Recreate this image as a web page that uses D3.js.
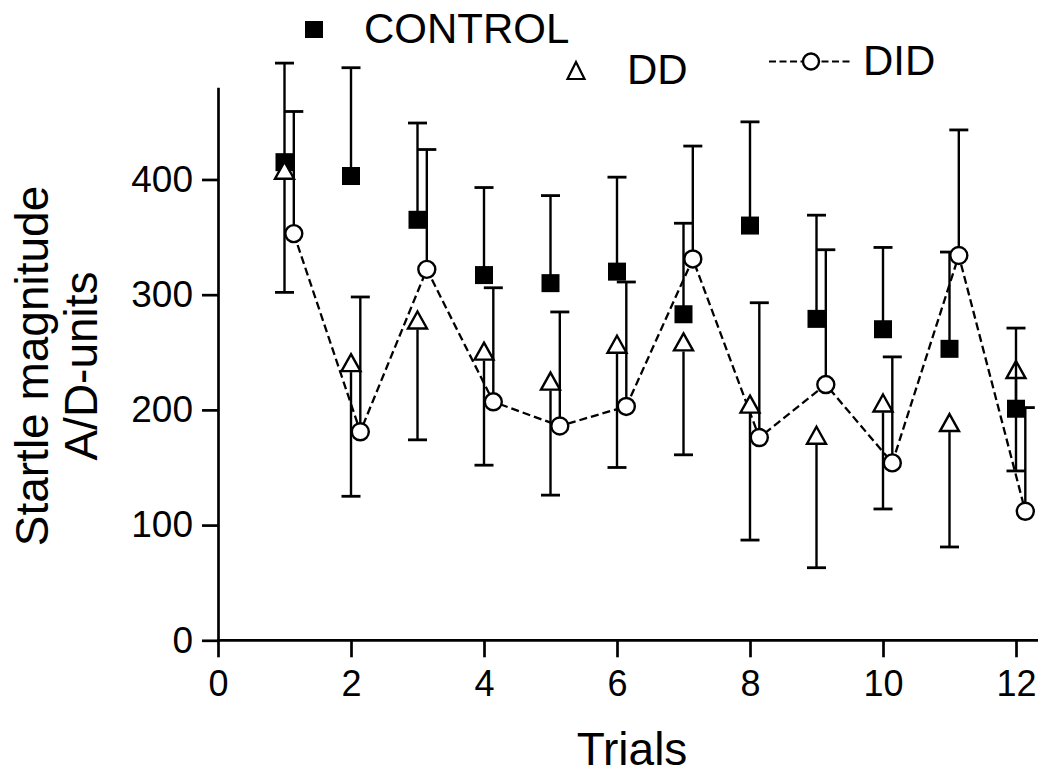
<!DOCTYPE html>
<html>
<head>
<meta charset="utf-8">
<script src="https://cdn.jsdelivr.net/npm/d3@7"></script>
<style>
  html, body { margin: 0; padding: 0; background: #fff; }
  svg { display: block; font-family: "Liberation Sans", Arial, sans-serif; }
</style>
</head>
<body>
<svg id="chart" width="1040" height="774"></svg>
<script>
// ---- data ----
const trials = [1, 2, 3, 4, 5, 6, 7, 8, 9, 10, 11, 12];
const controlMean = [415, 403, 365, 317, 310, 320, 283, 360, 279, 270, 253, 201];
const controlSem  = [86, 94, 84, 76, 76, 82, 79, 90, 90, 71, 84, 70];
const ddMean = [408, 241, 278, 251, 225, 257, 259, 205, 178, 206, 189, 235];
const ddSem  = [106, 116, 104, 99, 99, 107, 98, 118, 115, 92, 108, 88];
const didMean = [353, 181, 322, 207, 186, 203, 331, 176, 222, 154, 334, 112];
const didSem  = [106, 117, 104, 99, 99, 108, 98, 117, 117, 92, 109, 90];
const xTicks = [0, 2, 4, 6, 8, 10, 12];
const yTicks = [0, 100, 200, 300, 400];
const seriesNames = ["CONTROL", "DD", "DID"];
const xLabel = "Trials";
const yLabelLines = ["Startle magnitude", "A/D-units"];

// ---- layout ----
const svg = d3.select("#chart");
const x = d3.scaleLinear().domain([0, 12]).range([218, 1016]);
const y = d3.scaleLinear().domain([0, 480]).range([640.3, 87.3]);
const didOffset = 0.14;
const black = "#000";

const sq = 18, triW = 19, triH = 17, circR = 8.5;
const capHalf = 9.5;

// axes
const yAxis = d3.axisLeft(y).tickValues(yTicks).tickSize(16).tickPadding(9).tickSizeOuter(0);
const gy = svg.append("g").attr("transform", `translate(${x(0)},0)`).call(yAxis);
gy.select(".domain").attr("stroke-width", 2.7);
gy.selectAll(".tick line").attr("stroke-width", 2.7);
gy.selectAll(".tick text").attr("font-size", 37).attr("fill", black)
  .attr("font-family", "Liberation Sans, Arial, sans-serif");

const xAxis = d3.axisBottom(x).tickValues(xTicks).tickSize(17).tickPadding(13).tickSizeOuter(0);
const gx = svg.append("g").attr("transform", `translate(0,${y(0)})`).call(xAxis);
gx.select(".domain").remove();
gx.selectAll(".tick line").attr("stroke-width", 2.7);
gx.selectAll(".tick text").attr("font-size", 36).attr("fill", black)
  .attr("font-family", "Liberation Sans, Arial, sans-serif");
gx.append("line").attr("x1", x(0) - 1).attr("x2", 1038).attr("y1", 0).attr("y2", 0)
  .attr("stroke", black).attr("stroke-width", 2.7);

// axis titles
svg.append("text").attr("x", 632).attr("y", 765).attr("text-anchor", "middle")
  .attr("font-size", 46).attr("fill", black).text(xLabel);
const yl = svg.append("g").attr("transform", "translate(0,366) rotate(-90)");
yl.append("text").attr("x", 0).attr("y", 48).attr("text-anchor", "middle")
  .attr("font-size", 46).attr("fill", black).text(yLabelLines[0]);
yl.append("text").attr("x", 0).attr("y", 97).attr("text-anchor", "middle")
  .attr("font-size", 46).attr("fill", black).text(yLabelLines[1]);

const plot = svg.append("g");

// DID dashed line
const line = d3.line().x((d, i) => x(trials[i] + didOffset)).y(d => y(d));
plot.append("path").datum(didMean).attr("d", line)
  .attr("fill", "none").attr("stroke", black).attr("stroke-width", 2.3)
  .attr("stroke-dasharray", "8,4");

// CONTROL squares
plot.selectAll("rect.ctrl").data(controlMean).join("rect").attr("class", "ctrl")
  .attr("x", (d, i) => x(trials[i]) - sq / 2).attr("y", d => y(d) - sq / 2)
  .attr("width", sq).attr("height", sq).attr("fill", black);

// DD triangles
const triPath = (cx, cy) => `M${cx},${cy - triH / 2} L${cx + triW / 2},${cy + triH / 2} L${cx - triW / 2},${cy + triH / 2} Z`;
plot.selectAll("path.dd").data(ddMean).join("path").attr("class", "dd")
  .attr("d", (d, i) => triPath(x(trials[i]), y(d)))
  .attr("fill", "#fff").attr("stroke", black).attr("stroke-width", 2.4).attr("stroke-linejoin", "miter");

// error bars helper
function errBar(g, cx, y0, y1) {
  g.append("line").attr("x1", cx).attr("x2", cx).attr("y1", y0).attr("y2", y1)
    .attr("stroke", black).attr("stroke-width", 2.4);
  g.append("line").attr("x1", cx - capHalf).attr("x2", cx + capHalf).attr("y1", y1).attr("y2", y1)
    .attr("stroke", black).attr("stroke-width", 2.8);
}
const bars = plot.append("g");
// DD bars (downward, from triangle base)
ddMean.forEach((m, i) => errBar(bars, x(trials[i]), y(m) + triH / 2 + 1, y(m - ddSem[i])));
// CONTROL bars (upward)
controlMean.forEach((m, i) => errBar(bars, x(trials[i]), y(m), y(m + controlSem[i])));
// DID bars (upward)
didMean.forEach((m, i) => errBar(bars, x(trials[i] + didOffset), y(m), y(m + didSem[i])));

// DID circles
plot.selectAll("circle.did").data(didMean).join("circle").attr("class", "did")
  .attr("cx", (d, i) => x(trials[i] + didOffset)).attr("cy", d => y(d)).attr("r", circR)
  .attr("fill", "#fff").attr("stroke", black).attr("stroke-width", 2.4);

// ---- legend ----
const lg = svg.append("g");
lg.append("rect").attr("x", 305).attr("y", 21).attr("width", 18).attr("height", 17).attr("fill", black);
lg.append("text").attr("x", 364).attr("y", 43).attr("font-size", 42).attr("fill", black).text(seriesNames[0]);
lg.append("path").attr("d", `M576,62 L584.5,79 L567.5,79 Z`).attr("fill", "#fff")
  .attr("stroke", black).attr("stroke-width", 2.2);
lg.append("text").attr("x", 627).attr("y", 84).attr("font-size", 42).attr("fill", black).text(seriesNames[1]);
lg.append("line").attr("x1", 769).attr("x2", 853).attr("y1", 61.5).attr("y2", 61.5)
  .attr("stroke", black).attr("stroke-width", 2.2).attr("stroke-dasharray", "7,3.5");
lg.append("circle").attr("cx", 811).attr("cy", 61.5).attr("r", 8).attr("fill", "#fff")
  .attr("stroke", black).attr("stroke-width", 2.4);
lg.append("text").attr("x", 863).attr("y", 75).attr("font-size", 42).attr("fill", black).text(seriesNames[2]);
</script>
</body>
</html>
